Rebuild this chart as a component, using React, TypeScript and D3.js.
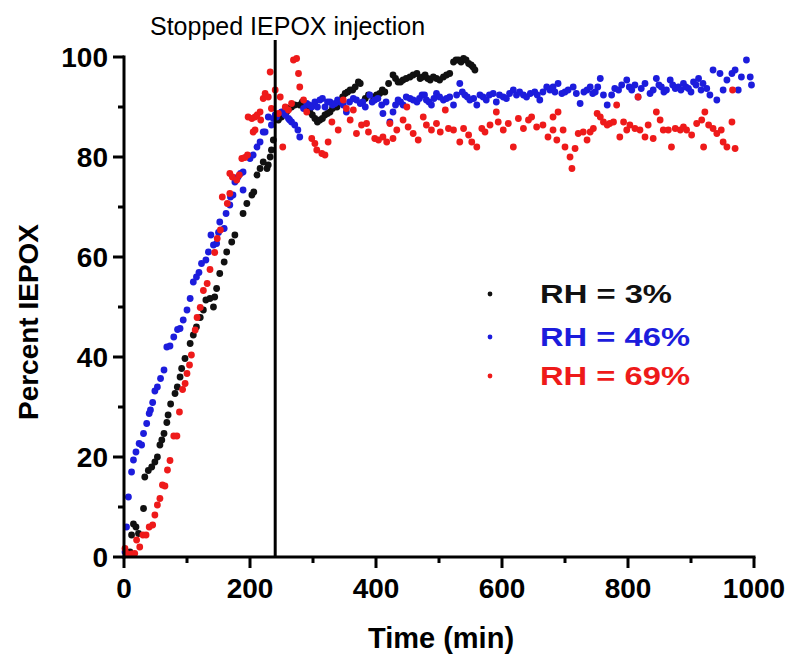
import React from 'react';
import * as d3 from 'd3';

const xTicks = [0, 200, 400, 600, 800, 1000];
const yTicks = [0, 20, 40, 60, 80, 100];
const xMinor = [100, 300, 500, 700, 900];
const yMinor = [10, 30, 50, 70, 90];
const injectionStop = 240;

const seriesLabels = ['RH = 3%', 'RH = 46%', 'RH = 69%'];
const seriesColors = ['#111111', '#1c1cdc', '#ee1a1a'];

const rh3: [number, number][] = [
  [9.5, 1], [12, 4.4], [15, 6.6], [19, 6], [23, 4.7], [31, 9.7], [33, 16], [38.6, 17.3], [44, 18], [49, 19],
  [53, 20], [57, 22.4], [60, 23.4], [63.5, 24.7], [68, 26.9], [70, 28.4], [74, 30.6], [81, 32.7], [84.6, 34],
  [89, 36], [91.5, 37.7], [96.8, 39.7], [105, 42.7], [110, 44.4], [115, 46], [121, 47.9], [126, 49.4], [130, 51.4],
  [136.5, 51.7], [142, 50], [144, 52], [147, 53.7], [152, 56.7], [159, 59], [163, 61], [171, 63], [176, 64.4],
  [189, 68.7], [195, 70.7], [203, 72.4], [206, 73], [211, 76.4], [216, 77.7], [221, 79], [227, 77.7], [229, 78.4],
  [232, 80], [234, 81.4], [237, 83.4], [245, 87.4], [248, 88], [250, 88], [258, 89], [262, 89.7], [266, 90],
  [271, 90.4], [279, 90.4], [283, 91], [287, 90.7], [291, 89.7], [295, 89], [299, 88.4], [303, 87.7], [307, 87],
  [311, 87.4], [315, 87.7], [319, 88.4], [323, 88.7], [327, 89], [331, 89.7], [338, 90], [343, 91], [347, 92],
  [351, 92.7], [355, 93], [359, 93.4], [363, 93.4], [367, 94], [372, 95], [375, 94.7], [383, 91.7], [388, 92.4],
  [396, 92], [401, 92.4], [406, 92.7], [410, 93.4], [414, 93], [420, 94.7], [427, 96.4], [431, 95.7], [435, 95],
  [439, 95], [443, 95.4], [448, 95.7], [454, 96], [459, 96.4], [465, 96.7], [470, 95.7], [474, 96], [478, 96.4],
  [482, 95.7], [486, 95.4], [491, 96], [496, 95.7], [501, 95.4], [507, 96], [512, 96.4], [517, 96.7], [523, 99],
  [527, 99.4], [531, 99.4], [535, 99], [539, 99.7], [543, 99.4], [547, 98.7], [551, 98.4], [554, 98], [557, 97.4],
];

const rh46: [number, number][] = [
  [1.6, 1], [4, 6], [7, 12], [12, 17], [15, 19.4], [19, 21], [24, 22.7], [28, 22.4], [31, 24.7], [36, 26.7],
  [40, 28.7], [42, 29.4], [45.5, 30.9], [49, 33.2], [53, 34], [58, 35.7], [63.5, 37.4], [68, 42], [73, 42.2],
  [79, 44], [85, 45.5], [89, 45.7], [94, 47.4], [100, 49.4], [105, 51.7], [110, 55], [115, 56], [119, 56.9],
  [123, 58.7], [130, 59.4], [134, 61], [138, 64.4], [142, 62.4], [147, 62.7], [150, 64.9], [152, 67], [159, 65.7],
  [162, 68.7], [168, 70.4], [169, 72], [173, 72.4], [176, 75], [181, 76], [185, 76.7], [189, 73.4], [189, 77],
  [200, 79.7], [205, 80.4], [211, 82], [216, 83], [221, 85], [224, 85], [229, 88], [234, 86.4], [237, 87.7],
  [240, 88.4], [242, 88], [250, 89], [253, 89], [256, 88.4], [261, 87.7], [263, 87.4], [266, 87], [271, 86.4],
  [276, 85.4], [279, 84], [285, 89.7], [290, 90.7], [294, 90.4], [298, 90], [303, 91], [307, 90], [311, 91.4],
  [315, 91.7], [319, 90], [323, 91], [327, 91], [331, 90.4], [335, 90.7], [339, 91.4], [343, 91], [348, 90.4],
  [353, 89], [358, 91], [364, 91.7], [369, 91.4], [375, 90.7], [379, 91], [383, 90], [390, 92.4], [394, 91],
  [398, 91.4], [403, 91.7], [409, 90.4], [411, 88.7], [416, 91], [422, 87], [427, 89], [431, 90.4], [435, 91.4],
  [439, 91], [443, 90.4], [448, 92], [454, 91.7], [459, 91.4], [465, 91], [469, 91.7], [473, 92.4], [477, 92.4],
  [480, 91.4], [484, 91], [488, 90.4], [492, 91.7], [496, 92.7], [501, 92], [507, 91.4], [512, 91.7], [517, 92],
  [523, 90.4], [528, 92.4], [533, 94.7], [537, 93], [541, 92.4], [545, 92], [549, 91.4], [555, 91.7], [560, 90.4],
  [565, 92.4], [570, 92], [575, 91.4], [580, 92.4], [586, 92.7], [591, 91], [596, 92.4], [602, 92], [607, 91.7],
  [612, 92.7], [618, 93.4], [623, 92.4], [628, 93], [634, 92.4], [639, 92], [645, 92.7], [652, 93], [656, 92.4],
  [660, 91.4], [665, 93], [671, 94], [676, 93.4], [681, 94], [684, 93], [689, 94.7], [695, 92.7], [700, 93],
  [705, 93.4], [713, 94], [718, 92.7], [724, 90.7], [730, 93], [735, 93.4], [740, 94], [744, 92.7], [748, 93],
  [752, 94], [756, 95.7], [761, 92.4], [767, 90.4], [774, 92.4], [779, 93.7], [785, 93.4], [790, 94.4], [798, 95.4],
  [802, 94], [806, 93.4], [811, 94.4], [816, 92], [821, 93.7], [827, 94.7], [835, 92.7], [840, 93.4], [845, 95.7],
  [849, 94.4], [853, 94], [857, 93], [861, 93.4], [867, 95.4], [871, 94.4], [875, 93.7], [880, 94], [884, 93.4],
  [888, 94.7], [892, 94], [896, 93.7], [900, 93], [904, 95], [908, 94.4], [912, 95.7], [916, 93.4], [919, 94.7],
  [925, 93.7], [930, 92.4], [935, 97.4], [941, 91.4], [946, 96.7], [951, 93.4], [957, 95.4], [965, 96.7], [970, 97.4],
  [975, 93.4], [980, 96], [988, 99.4], [994, 96], [996, 94.4],
];

const rh69: [number, number][] = [
  [1.6, 1.7], [4, 0.7], [12, 0.6], [17, 0.7], [20, 3.4], [25, 2], [30, 4.4], [35, 4.4], [40, 6], [45.5, 6.4],
  [49, 8.4], [53, 10.4], [57, 11.7], [61, 14.4], [65, 14.2], [69, 17.4], [73, 19.3], [79, 24.2], [84, 24.2],
  [88, 29], [93, 33.5], [97, 34.7], [100, 36.7], [104, 38.4], [107, 40.4], [113, 45.4], [116, 47.9], [121, 49.9],
  [126, 53.3], [132, 54.7], [136.5, 57.5], [144, 60.9], [148, 63.7], [153, 65.4], [156, 72], [164, 70.7],
  [168, 72.7], [168, 76.7], [172, 76], [179, 75.4], [183, 76.4], [187, 79.7], [192, 79.9], [196, 80.4], [197, 88],
  [203, 87.7], [205, 85], [208, 85.4], [208, 88], [211, 88.4], [216, 89], [217, 87.4], [221, 91.7], [224, 92.7],
  [229, 92], [232, 97], [234, 89.7], [240, 93.4], [245, 88.7], [248, 92], [252, 82], [256, 90], [261, 89.4],
  [266, 90.7], [269, 99.4], [274, 99.7], [277, 96.7], [279, 94], [285, 91.4], [290, 89], [298, 83.7], [303, 82.7],
  [306, 81.4], [314, 80.7], [319, 80.4], [324, 83], [330, 87], [340, 85.4], [348, 91.4], [353, 89.7], [359, 87.4],
  [364, 89.4], [369, 84.7], [377, 86.4], [385, 86.7], [388, 85], [398, 83.7], [404, 83.4], [411, 84], [417, 83],
  [422, 86.7], [427, 83.7], [433, 85.4], [443, 87.4], [449, 90], [451, 86], [459, 84.7], [467, 83.4], [475, 88],
  [480, 86.4], [488, 85.4], [496, 86.7], [502, 85], [510, 89.4], [515, 85.7], [523, 85.4], [533, 83], [539, 85.7],
  [547, 84.4], [552, 83], [560, 82], [568, 85.7], [573, 85], [581, 86.4], [591, 89], [594, 87], [602, 85.4],
  [610, 86.7], [618, 82], [626, 87.7], [634, 85.7], [642, 87.4], [647, 88], [655, 86], [665, 86.4], [673, 84],
  [681, 88], [681, 85.4], [687, 83.4], [689, 89], [697, 85.4], [700, 82], [708, 80], [711, 77.7], [716, 81.7],
  [721, 84.7], [729, 85], [735, 83.4], [740, 85], [745, 85.7], [751, 88.7], [756, 88], [761, 87], [767, 86.4],
  [771, 86.7], [777, 87], [782, 90.4], [787, 84], [793, 87], [798, 85.4], [803, 86.4], [811, 85.7], [816, 92],
  [819, 85.4], [827, 84], [832, 86.4], [840, 83.7], [845, 89], [851, 87.4], [856, 85.4], [864, 85.4], [869, 82],
  [875, 85.7], [883, 85.4], [888, 86], [893, 85.4], [901, 84.4], [909, 86.7], [917, 87.4], [920, 82], [922, 89],
  [928, 86.4], [935, 85.7], [941, 84.7], [948, 85.4], [951, 83], [957, 82], [965, 87], [966, 93.4], [970, 81.7],
];

const allSeries = [rh3, rh46, rh69];

const FONT = '"Liberation Sans", Arial, sans-serif';

export default function App() {
  const W = 792;
  const H = 660;
  const x = d3.scaleLinear().domain([0, 1000]).range([124, 754]);
  const y = d3.scaleLinear().domain([0, 100]).range([557, 57]);
  const x0 = x(0);
  const y0 = y(0);

  return (
    <svg width={W} height={H} style={{ position: 'absolute', left: 0, top: 0, background: '#fff' }}>
      <rect width={W} height={H} fill="#fff" />
      {allSeries.map((s, i) => (
        <g key={i} fill={seriesColors[i]}>
          {s.map((d, j) => (
            <circle key={j} cx={x(d[0])} cy={y(d[1])} r={3.4} />
          ))}
        </g>
      ))}
      <line x1={x(injectionStop)} x2={x(injectionStop)} y1={40} y2={y0} stroke="#000" strokeWidth={3} />
      <text x={150} y={35} fontFamily={FONT} fontSize={25} fill="#000">Stopped IEPOX injection</text>

      <line x1={x0} x2={x0} y1={y(100) - 1.5} y2={y0 + 1.5} stroke="#000" strokeWidth={3} />
      <line x1={x0 - 1.5} x2={x(1000) + 1.5} y1={y0} y2={y0} stroke="#000" strokeWidth={3} />
      {yTicks.map((t) => (
        <g key={'y' + t}>
          <line x1={x0 - 11} x2={x0} y1={y(t)} y2={y(t)} stroke="#000" strokeWidth={3} />
          <text x={x0 - 16} y={y(t)} dy="0.36em" textAnchor="end" fontFamily={FONT} fontWeight="bold" fontSize={28}>
            {t}
          </text>
        </g>
      ))}
      {yMinor.map((t) => (
        <line key={'ym' + t} x1={x0 - 6} x2={x0} y1={y(t)} y2={y(t)} stroke="#000" strokeWidth={3} />
      ))}
      {xTicks.map((t) => (
        <g key={'x' + t}>
          <line x1={x(t)} x2={x(t)} y1={y0} y2={y0 + 11} stroke="#000" strokeWidth={3} />
          <text x={x(t)} y={598} textAnchor="middle" fontFamily={FONT} fontWeight="bold" fontSize={28}>
            {t}
          </text>
        </g>
      ))}
      {xMinor.map((t) => (
        <line key={'xm' + t} x1={x(t)} x2={x(t)} y1={y0} y2={y0 + 6} stroke="#000" strokeWidth={3} />
      ))}

      <text x={441} y={648} textAnchor="middle" fontFamily={FONT} fontWeight="bold" fontSize={29}>Time (min)</text>
      <text transform="translate(38,322) rotate(-90)" textAnchor="middle" fontFamily={FONT} fontWeight="bold" fontSize={28}>
        Percent IEPOX
      </text>

      {seriesLabels.map((lab, i) => {
        const cy = [294, 337, 376][i];
        return (
          <g key={lab}>
            <circle cx={490} cy={cy} r={2.4} fill={seriesColors[i]} />
            <text x={540} y={cy} dy="0.36em" fontFamily={FONT} fontWeight="bold" fontSize={26} fill={seriesColors[i]}
              textLength={i === 0 ? 132 : 150} lengthAdjust="spacingAndGlyphs">
              {lab}
            </text>
          </g>
        );
      })}
    </svg>
  );
}
